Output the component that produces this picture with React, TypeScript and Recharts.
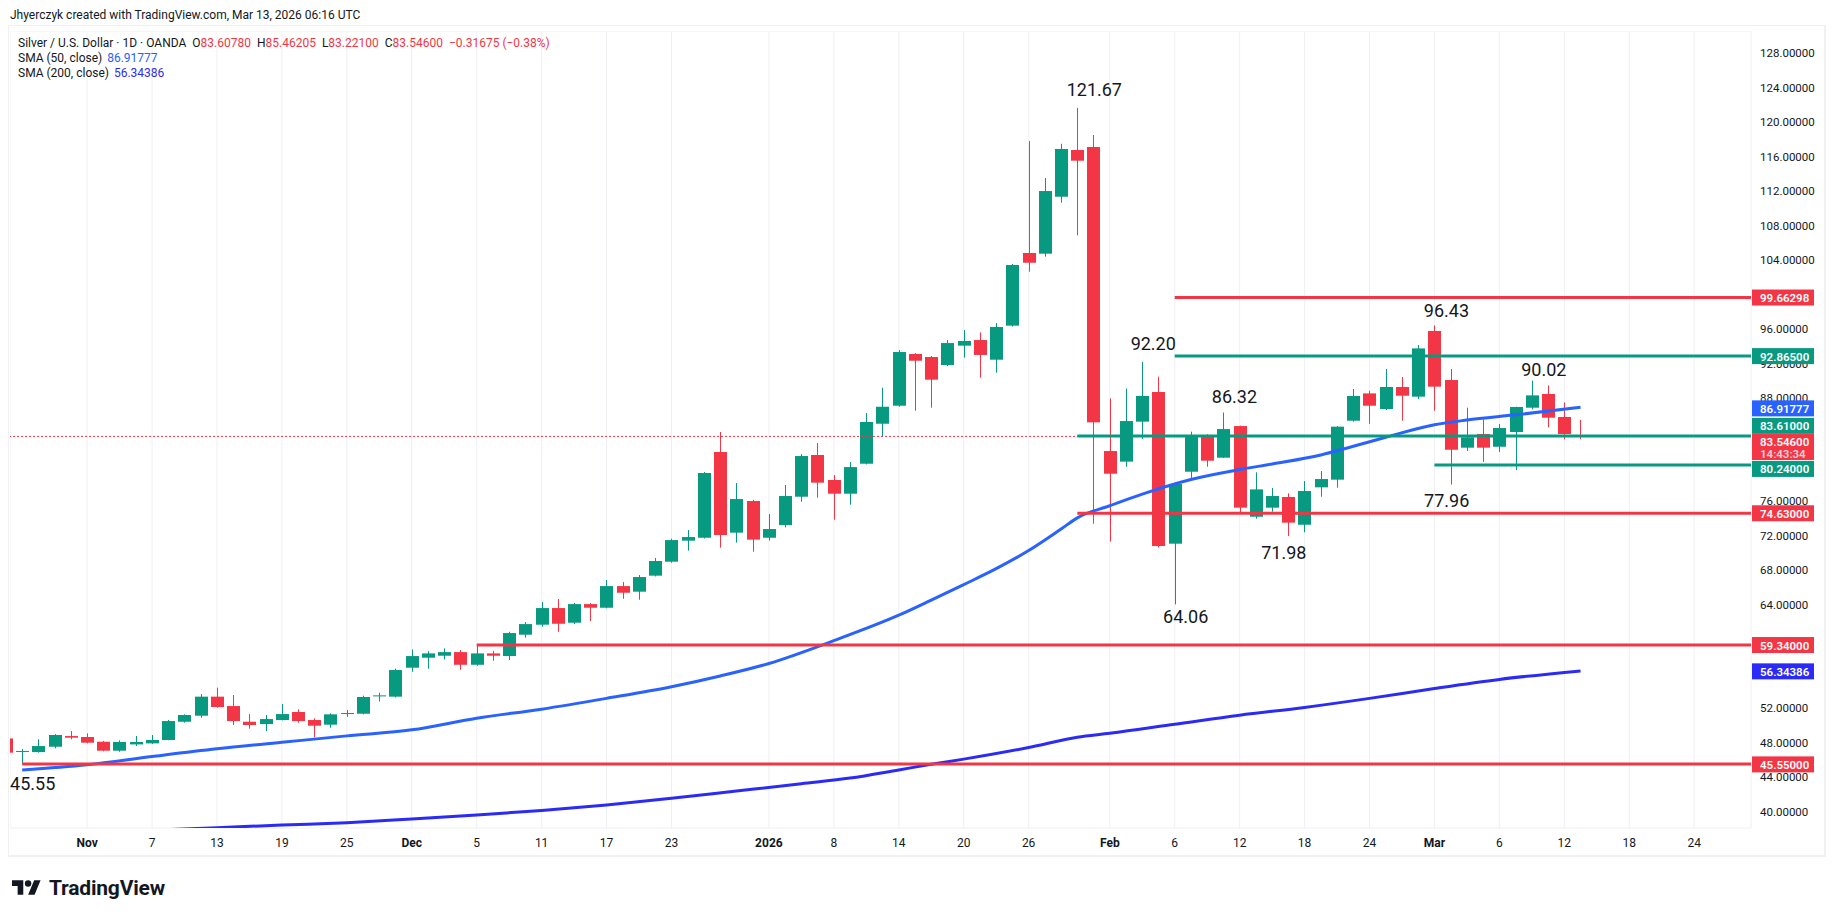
import React from 'react';
import { ComposedChart, Bar, Line, XAxis, YAxis, CartesianGrid, ReferenceLine, ReferenceDot } from 'recharts';

// ---------------- data ----------------
const dates: string[] = [
  '2025-10-27', '2025-10-28', '2025-10-29', '2025-10-30', '2025-10-31',
  '2025-11-03', '2025-11-04', '2025-11-05', '2025-11-06', '2025-11-07',
  '2025-11-10', '2025-11-11', '2025-11-12', '2025-11-13', '2025-11-14',
  '2025-11-17', '2025-11-18', '2025-11-19', '2025-11-20', '2025-11-21',
  '2025-11-24', '2025-11-25', '2025-11-26', '2025-11-27', '2025-11-28',
  '2025-12-01', '2025-12-02', '2025-12-03', '2025-12-04', '2025-12-05',
  '2025-12-08', '2025-12-09', '2025-12-10', '2025-12-11', '2025-12-12',
  '2025-12-15', '2025-12-16', '2025-12-17', '2025-12-18', '2025-12-19',
  '2025-12-22', '2025-12-23', '2025-12-24', '2025-12-26',
  '2025-12-29', '2025-12-30', '2025-12-31', '2026-01-02',
  '2026-01-05', '2026-01-06', '2026-01-07', '2026-01-08', '2026-01-09',
  '2026-01-12', '2026-01-13', '2026-01-14', '2026-01-15', '2026-01-16',
  '2026-01-19', '2026-01-20', '2026-01-21', '2026-01-22', '2026-01-23',
  '2026-01-26', '2026-01-27', '2026-01-28', '2026-01-29', '2026-01-30',
  '2026-02-02', '2026-02-03', '2026-02-04', '2026-02-05', '2026-02-06',
  '2026-02-09', '2026-02-10', '2026-02-11', '2026-02-12', '2026-02-13',
  '2026-02-16', '2026-02-17', '2026-02-18', '2026-02-19', '2026-02-20',
  '2026-02-23', '2026-02-24', '2026-02-25', '2026-02-26', '2026-02-27',
  '2026-03-02', '2026-03-03', '2026-03-04', '2026-03-05', '2026-03-06',
  '2026-03-09', '2026-03-10', '2026-03-11', '2026-03-12', '2026-03-13',
];

const opens: number[] = [
  48.50, 46.95, 46.92, 47.54, 48.78,
  48.67, 48.12, 47.08, 47.81, 47.93,
  48.32, 50.44, 51.14, 53.35, 52.26,
  50.44, 50.17, 50.64, 51.57, 50.64,
  50.10, 51.37, 51.37, 53.43, 53.35,
  56.71, 57.87, 58.10, 58.52, 57.05,
  58.37, 58.06, 60.54, 61.70, 63.63,
  61.93, 64.09, 63.67, 66.18, 65.53,
  67.39, 69.01, 71.45, 71.79,
  81.74, 72.38, 76.05, 71.79,
  73.26, 76.55, 81.39, 78.49, 76.90,
  80.38, 85.02, 87.11, 93.11, 92.76,
  91.83, 94.08, 94.73, 92.45, 96.40,
  104.83, 104.75, 111.36, 116.78, 117.13,
  81.85, 80.62, 85.26, 88.70, 71.10,
  79.45, 83.59, 81.08, 84.75, 74.23,
  75.28, 76.52, 73.30, 77.64, 78.53,
  85.37, 88.54, 86.73, 89.28, 88.16,
  95.78, 90.09, 82.24, 83.83, 82.35,
  84.06, 86.88, 88.47, 85.80, 83.6078,
];

const highs: number[] = [
  48.60, 47.27, 48.40, 49.00, 49.36,
  49.09, 48.20, 48.28, 48.78, 48.90,
  50.64, 51.30, 53.66, 54.39, 53.54,
  51.33, 51.22, 52.50, 51.88, 50.83,
  51.41, 51.80, 53.46, 53.80, 56.60,
  58.83, 58.64, 58.95, 58.76, 59.26,
  58.64, 60.88, 62.01, 64.33, 64.67,
  64.21, 64.21, 66.88, 66.65, 67.46,
  69.44, 71.68, 72.68, 79.41,
  84.06, 78.14, 76.20, 74.54,
  77.91, 81.50, 82.78, 79.07, 80.58,
  86.26, 89.20, 93.57, 93.20, 92.88,
  94.73, 95.89, 95.62, 96.70, 103.55,
  117.82, 113.53, 117.50, 121.67, 118.52,
  87.96, 89.10, 92.20, 90.48, 78.10,
  84.10, 83.80, 86.32, 84.80, 79.38,
  77.56, 76.94, 78.37, 79.53, 84.75,
  89.05, 88.85, 91.37, 90.44, 94.15,
  96.43, 91.37, 86.88, 85.53, 84.98,
  87.00, 90.02, 89.47, 87.50, 85.46205,
];

const lows: number[] = [
  46.70, 45.55, 46.85, 47.35, 48.40,
  47.93, 47.00, 46.96, 47.62, 47.85,
  48.30, 50.33, 50.91, 52.07, 50.06,
  49.63, 49.36, 50.60, 50.33, 48.63,
  49.75, 51.00, 51.30, 52.80, 53.25,
  56.24, 56.59, 57.67, 56.47, 56.94,
  57.52, 57.60, 60.19, 61.46, 60.88,
  61.77, 62.12, 63.60, 64.71, 64.60,
  67.30, 68.89, 70.29, 71.70,
  70.64, 71.22, 70.17, 71.45,
  72.99, 75.97, 76.44, 73.88, 75.63,
  80.30, 83.52, 87.00, 86.53, 86.88,
  91.72, 92.68, 90.36, 90.94, 96.30,
  102.66, 104.40, 110.67, 106.88, 73.42,
  71.33, 80.03, 83.25, 70.67, 64.06,
  78.60, 80.03, 81.05, 74.70, 74.00,
  74.81, 71.98, 72.42, 76.55, 77.60,
  85.26, 85.02, 86.61, 85.37, 87.89,
  86.53, 77.96, 81.85, 80.58, 81.73,
  79.65, 86.69, 84.60, 83.20, 83.221,
];

const closes: number[] = [
  46.85, 47.05, 47.62, 48.90, 48.59,
  48.01, 47.08, 48.09, 48.09, 48.32,
  50.52, 51.22, 53.35, 52.15, 50.52,
  50.06, 50.75, 51.33, 50.52, 49.98,
  51.30, 51.45, 53.31, 53.50, 56.44,
  58.06, 58.37, 58.52, 57.05, 58.37,
  58.10, 60.73, 61.77, 63.63, 61.81,
  64.09, 63.67, 66.18, 65.41, 67.23,
  69.09, 71.52, 71.87, 79.30,
  72.10, 76.28, 71.57, 72.80,
  76.63, 81.27, 78.18, 76.90, 79.99,
  85.22, 86.99, 93.34, 92.33, 90.13,
  94.38, 94.62, 93.00, 96.24, 103.44,
  103.70, 112.02, 116.90, 115.54, 85.18,
  79.22, 85.33, 88.24, 70.83, 78.02,
  83.52, 80.73, 84.40, 75.28, 77.40,
  76.63, 73.54, 77.21, 78.60, 84.68,
  88.24, 87.11, 89.28, 88.27, 93.76,
  89.32, 82.00, 83.44, 82.24, 84.52,
  86.96, 88.31, 85.72, 83.83, 83.546,
];

const sma50Index: number[] = [1, 5, 9, 13, 17, 21, 25, 29, 33, 37, 41, 44, 47, 51, 55, 57, 59, 61, 63, 65, 66, 68, 70, 73, 76, 78, 81, 83, 85, 88, 90, 93, 97];
const sma50Values: number[] = [44.85, 45.45, 46.40, 47.30, 48.05, 48.80, 49.50, 50.85, 51.90, 53.15, 54.50, 55.75, 57.20, 59.85, 62.80, 64.55, 66.35, 68.20, 70.30, 72.80, 74.10, 75.50, 76.85, 78.55, 79.70, 80.35, 81.40, 82.40, 83.45, 84.90, 85.45, 86.05, 86.92];

const sma200Index: number[] = [9, 13, 17, 21, 25, 29, 33, 37, 41, 45, 49, 52, 55, 57, 59, 63, 66, 68, 72, 76, 80, 84, 88, 92, 97];
const sma200Values: number[] = [37.85, 38.15, 38.45, 38.73, 39.15, 39.62, 40.15, 40.78, 41.55, 42.40, 43.25, 43.90, 44.85, 45.50, 46.10, 47.45, 48.65, 49.10, 50.15, 51.20, 52.10, 53.15, 54.30, 55.35, 56.34];

const xTickIndex: number[] = [5, 9, 13, 17, 21, 25, 29, 33, 37, 41, 47, 51, 55, 59, 63, 68, 72, 76, 80, 84, 88, 92, 96, 100, 104];
const xTickLabels: string[] = ['Nov', '7', '13', '19', '25', 'Dec', '5', '11', '17', '23', '2026', '8', '14', '20', '26', 'Feb', '6', '12', '18', '24', 'Mar', '6', '12', '18', '24'];

const yTicks: number[] = [40, 44, 48, 52, 56, 60, 64, 68, 72, 76, 80, 84, 88, 92, 96, 100, 104, 108, 112, 116, 120, 124, 128];

const levelPrices: number[] = [99.66298, 92.865, 83.61, 80.24, 74.63, 59.34, 45.55];
const levelStartIndex: number[] = [72, 72, 66, 88, 66, 29, 1];

const annotationValues: number[] = [121.67, 92.20, 86.32, 64.06, 71.98, 96.43, 90.02, 77.96, 45.55];
const annotationIndex: number[] = [66, 70, 75, 72, 79, 88, 94, 89, 1];

const boxPrices: number[] = [99.66298, 92.865, 86.91777, 83.61, 80.24, 74.63, 59.34, 56.34386, 45.55];

const lastOpen = 83.6078;
const lastHigh = 85.46205;
const lastLow = 83.221;
const lastClose = 83.546;
const lastChange = -0.31675;
const lastChangePct = -0.38;
const countdown = '14:43:34';
const sma50Last = 86.91777;
const sma200Last = 56.34386;

// ---------------- styles ----------------
const GREEN = '#089981';
const RED = '#f23645';
const SMA50C = '#2962ff';
const SMA200C = '#2b2bf5';
const TEXT = '#131722';
const GRID = '#eef0f4';
const FONT = "Roboto, 'Noto Sans', 'DejaVu Sans', sans-serif";
const X_DOMAIN: [number, number] = [0.25, 107.5];
const Y_DOMAIN: [number, number] = [38.11, 130.59];
const BODY_W = 13;
const PX_PER_UNIT = 797 / (Y_DOMAIN[1] - Y_DOMAIN[0]);

const levelColors = [RED, GREEN, GREEN, GREEN, RED, RED, RED];
const boxColors = [RED, GREEN, SMA50C, GREEN, GREEN, RED, RED, SMA200C, RED];
const boxShift = [0, 0, 1, -10, 4, 0, 0, 0.5, 0.5];
const annDx = [17, 11, 11, 11, -4.5, 12, 12, -4, 10.5];
const annDy = [-18, -18, -16, 12.5, 16, -15, -11, 16, 20];
const boldLabels = ['Nov', 'Dec', '2026', 'Feb', 'Mar'];

// price-axis labels hidden behind a price box (as TradingView does)
const tickHidden = (t: number) =>
  boxPrices.some((p, k) => Math.abs(t - (p - boxShift[k] / PX_PER_UNIT)) < 0.8);

// ---------------- table ----------------
type Row = { i: number; date: string; o: number; h: number; l: number; c: number; range: [number, number]; sma50: number | null; sma200: number | null };
const rows: Row[] = dates.map((d, i) => ({
  i, date: d, o: opens[i], h: highs[i], l: lows[i], c: closes[i],
  range: [lows[i], highs[i]], sma50: null, sma200: null,
}));
sma50Index.forEach((ix, k) => { rows[ix].sma50 = sma50Values[k]; });
sma200Index.forEach((ix, k) => { rows[ix].sma200 = sma200Values[k]; });

const Candle = (props: any) => {
  const { x, y, width, height, payload } = props;
  if (!payload || payload.h == null || height == null) return null;
  const { o, h, l, c } = payload;
  const cx = x + width / 2;
  const span = h - l || 1;
  const py = (v: number) => y + ((h - v) / span) * height;
  const color = c >= o ? GREEN : RED;
  const top = py(Math.max(o, c));
  const bot = py(Math.min(o, c));
  const bx = Math.round(cx - BODY_W / 2);
  return (
    <g>
      <line x1={bx + BODY_W / 2} x2={bx + BODY_W / 2} y1={y} y2={y + height} stroke={color} strokeWidth={1} />
      <rect x={bx} y={top} width={BODY_W} height={Math.max(1, bot - top)} fill={color} />
    </g>
  );
};

const XTick = (p: any) => {
  const k = xTickIndex.indexOf(p.payload.value);
  const label = k >= 0 ? xTickLabels[k] : '';
  return (
    <text x={p.x} y={p.y + 13} textAnchor="middle" dominantBaseline="central" fontSize={12}
      fontWeight={boldLabels.includes(label) ? 700 : 400} fill={TEXT} fontFamily={FONT}>{label}</text>
  );
};

const priceTick = (vb: any, value: number) => {
  if (!vb) return null;
  return (
    <text x={vb.x + vb.width + 9} y={vb.y} dominantBaseline="central" fontSize={11.5} fill={TEXT} fontFamily={FONT}>
      {value.toFixed(5)}
    </text>
  );
};

const box = (vb: any, text: string, color: string, shift: number) => {
  if (!vb) return null;
  const x = vb.x + vb.width + 1;
  const cy = vb.y + shift;
  return (
    <g>
      <rect x={x} y={cy - 8} width={62} height={16} fill={color} />
      <text x={x + 8} y={cy + 0.5} dominantBaseline="central" fontSize={11.5} fontWeight={600} fill="#ffffff" fontFamily={FONT}>{text}</text>
    </g>
  );
};

export default function App() {
  return (
    <div style={{ position: 'relative', width: 1835, height: 917, background: '#ffffff', overflow: 'hidden', fontFamily: FONT, color: TEXT }}>
      <style>{'body{margin:0;background:#fff}'}</style>
      <div style={{ position: 'absolute', left: 10, top: 7, fontSize: 12, lineHeight: '16px', whiteSpace: 'nowrap' }}>
        Jhyerczyk created with TradingView.com, Mar 13, 2026 06:16 UTC
      </div>
      <div style={{ position: 'absolute', left: 8, top: 25, width: 1815, height: 829, border: '2px solid #f0f1f3', borderTopWidth: 1, borderLeftWidth: 1 }} />
      <div style={{ position: 'absolute', left: 10, top: 31 }}>
        <ComposedChart width={1813} height={825} data={rows} margin={{ top: 0, right: 0, bottom: 0, left: 0 }}>
          <CartesianGrid stroke={GRID} strokeWidth={1} />
          <XAxis dataKey="i" type="number" domain={X_DOMAIN} allowDataOverflow ticks={xTickIndex} interval={0}
            tick={(p: any) => <XTick {...p} />} tickLine={false} axisLine={false} height={28} tickSize={0} />
          <YAxis orientation="right" type="number" domain={Y_DOMAIN} allowDataOverflow ticks={yTicks} interval={0}
            tick={false} tickLine={false} axisLine={false} width={72} tickSize={0} />
          {yTicks.filter((t) => !tickHidden(t)).map((t) => (
            <ReferenceLine key={'yt' + t} y={t} stroke="none" ifOverflow="visible"
              label={(lp: any) => priceTick(lp.viewBox, t)} />
          ))}
          <ReferenceLine y={lastClose} stroke={RED} strokeWidth={1} strokeDasharray="2 2" />
          <Bar dataKey="range" barSize={BODY_W} shape={(p: any) => <Candle {...p} />} isAnimationActive={false} />
          <Line dataKey="sma200" type="monotone" connectNulls dot={false} stroke={SMA200C} strokeWidth={3} isAnimationActive={false} />
          <Line dataKey="sma50" type="monotone" connectNulls dot={false} stroke={SMA50C} strokeWidth={3} isAnimationActive={false} />
          {levelPrices.map((p, k) => (
            <ReferenceLine key={'lv' + k} segment={[{ x: levelStartIndex[k], y: p }, { x: X_DOMAIN[1], y: p }]}
              stroke={levelColors[k]} strokeWidth={3} ifOverflow="visible" />
          ))}
          {annotationValues.map((v, k) => (
            <ReferenceDot key={'an' + k} x={annotationIndex[k]} y={v} r={1} fill="none" stroke="none"
              label={(p: any) => (
                <text x={p.viewBox.x + p.viewBox.width / 2 + annDx[k]} y={p.viewBox.y + p.viewBox.height / 2 + annDy[k]}
                  textAnchor="middle" dominantBaseline="central" fontSize={18} fill={TEXT} fontFamily={FONT}>{v.toFixed(2)}</text>
              )} />
          ))}
          {boxPrices.map((p, k) => (
            <ReferenceLine key={'bx' + k} y={p} stroke="none" ifOverflow="visible"
              label={(lp: any) => box(lp.viewBox, p.toFixed(5), boxColors[k], boxShift[k])} />
          ))}
          <ReferenceLine y={lastClose} stroke="none" ifOverflow="visible"
            label={(lp: any) => {
              const vb = lp.viewBox;
              if (!vb) return null;
              const x = vb.x + vb.width + 1;
              const top = vb.y - 2.4;
              return (
                <g>
                  <rect x={x} y={top} width={62} height={26} fill={RED} />
                  <text x={x + 8} y={top + 7.5} dominantBaseline="central" fontSize={11.5} fontWeight={600} fill="#ffffff" fontFamily={FONT}>{lastClose.toFixed(5)}</text>
                  <text x={x + 8} y={top + 19.5} dominantBaseline="central" fontSize={11.5} fontWeight={600} fill="rgba(255,255,255,0.78)" fontFamily={FONT}>{countdown}</text>
                </g>
              );
            }} />
        </ComposedChart>
      </div>
      <div style={{ position: 'absolute', left: 18, top: 35, fontSize: 12, lineHeight: '16px', whiteSpace: 'nowrap' }}>
        <span>Silver / U.S. Dollar · 1D · OANDA</span>
        <span style={{ marginLeft: 6 }}>O</span><span style={{ color: RED }}>{lastOpen.toFixed(5)}</span>
        <span style={{ marginLeft: 6 }}>H</span><span style={{ color: RED }}>{lastHigh.toFixed(5)}</span>
        <span style={{ marginLeft: 6 }}>L</span><span style={{ color: RED }}>{lastLow.toFixed(5)}</span>
        <span style={{ marginLeft: 6 }}>C</span><span style={{ color: RED }}>{lastClose.toFixed(5)}</span>
        <span style={{ marginLeft: 6, color: RED }}>{'\u2212' + Math.abs(lastChange).toFixed(5)} ({'\u2212' + Math.abs(lastChangePct).toFixed(2)}%)</span>
      </div>
      <div style={{ position: 'absolute', left: 18, top: 50, fontSize: 12, lineHeight: '16px', whiteSpace: 'nowrap' }}>
        SMA (50, close) <span style={{ color: SMA50C, marginLeft: 2 }}>{sma50Last.toFixed(5)}</span>
      </div>
      <div style={{ position: 'absolute', left: 18, top: 65, fontSize: 12, lineHeight: '16px', whiteSpace: 'nowrap' }}>
        SMA (200, close) <span style={{ color: SMA200C, marginLeft: 2 }}>{sma200Last.toFixed(5)}</span>
      </div>
      <div style={{ position: 'absolute', left: 12, top: 876, display: 'flex', alignItems: 'center', height: 24 }}>
        <svg width={29} height={22.6} viewBox="0 0 36 28">
          <path d="M14 22H7V11H0V4h14v18zM28 22h-8l7.5-18h8L28 22z" fill={TEXT} />
          <circle cx="20" cy="8" r="4" fill={TEXT} />
        </svg>
        <span style={{ marginLeft: 8, fontSize: 21, fontWeight: 700, letterSpacing: -0.2 }}>TradingView</span>
      </div>
    </div>
  );
}
